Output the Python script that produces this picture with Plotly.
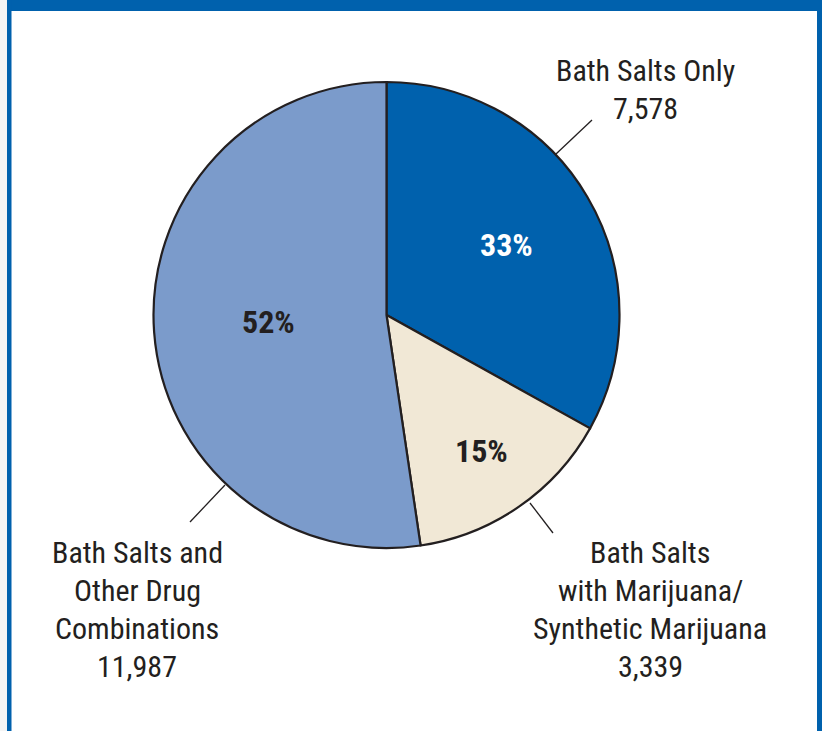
import plotly.graph_objects as go

categories = ["Bath Salts Only", "Bath Salts with Marijuana/Synthetic Marijuana",
              "Bath Salts and Other Drug Combinations"]
label_lines = [["Bath Salts Only"],
               ["Bath Salts", "with Marijuana/", "Synthetic Marijuana"],
               ["Bath Salts and", "Other Drug", "Combinations"]]
values = [7578, 3339, 11987]
colors = ["#0061AD", "#F1E8D6", "#7B9BCB"]
pct_colors = ["#FFFFFF", "#231F20", "#231F20"]

W, H = 822, 731
FONT = "Liberation Sans Narrow, Roboto Condensed, DejaVu Sans Condensed, Arial Narrow, sans-serif"

def px(x):
    return x / W

def py(y):
    return 1 - y / H

cx, cy, r = 386.5, 315, 233

fig = go.Figure(go.Pie(
    labels=categories, values=values, sort=False, direction="clockwise", rotation=0,
    marker=dict(colors=colors, line=dict(color="#231F20", width=2.2)),
    textinfo="none", hoverinfo="label+value+percent", showlegend=False,
    domain=dict(x=[px(cx - r), px(cx + r)], y=[py(cy + r), py(cy - r)]),
))

total = sum(values)
pcts = [round(v / total * 100) for v in values]
pct_pos = [(506, 245), (482, 451), (268, 322)]
annotations = []
for p, (x, y), c in zip(pcts, pct_pos, pct_colors):
    annotations.append(dict(x=px(x), y=py(y), xref="paper", yref="paper",
                            xanchor="center", yanchor="middle",
                            text=f"<b>{p}%</b>", showarrow=False,
                            font=dict(family=FONT, size=32, color=c)))

outer_pos = [(645, 70), (650, 552), (137, 552)]
line_h = 38
for lines, v, (x, y) in zip(label_lines, values, outer_pos):
    for i, t in enumerate(lines + [f"{v:,}"]):
        annotations.append(dict(x=px(x), y=py(y + i * line_h), xref="paper", yref="paper",
                                xanchor="center", yanchor="middle",
                                text=t, showarrow=False,
                                font=dict(family=FONT, size=30, color="#231F20")))

shapes = []
leaders = [((556, 154), (592, 120)), ((530, 503), (553, 533)), ((225, 485), (190, 522))]
for (x0, y0), (x1, y1) in leaders:
    shapes.append(dict(type="line", xref="paper", yref="paper",
                       x0=px(x0), y0=py(y0), x1=px(x1), y1=py(y1),
                       line=dict(color="#231F20", width=1.3)))

frame_blue = "#0061AD"
shapes += [
    dict(type="rect", xref="paper", yref="paper", x0=0, x1=px(7), y0=0, y1=1,
         fillcolor="#F4F4F4", line=dict(width=0), layer="below"),
    dict(type="rect", xref="paper", yref="paper", x0=px(7), x1=1, y0=py(11), y1=1,
         fillcolor=frame_blue, line=dict(width=0)),
    dict(type="rect", xref="paper", yref="paper", x0=px(7), x1=px(11.5), y0=0, y1=1,
         fillcolor=frame_blue, line=dict(width=0)),
    dict(type="rect", xref="paper", yref="paper", x0=px(817), x1=1, y0=0, y1=1,
         fillcolor=frame_blue, line=dict(width=0)),
]

fig.update_layout(width=W, height=H, margin=dict(l=0, r=0, t=0, b=0),
                  paper_bgcolor="white", plot_bgcolor="white",
                  annotations=annotations, shapes=shapes)

fig.write_html("out.html", config={"displayModeBar": False},
               post_script="document.body.style.margin='0';document.body.style.overflow='hidden';")
